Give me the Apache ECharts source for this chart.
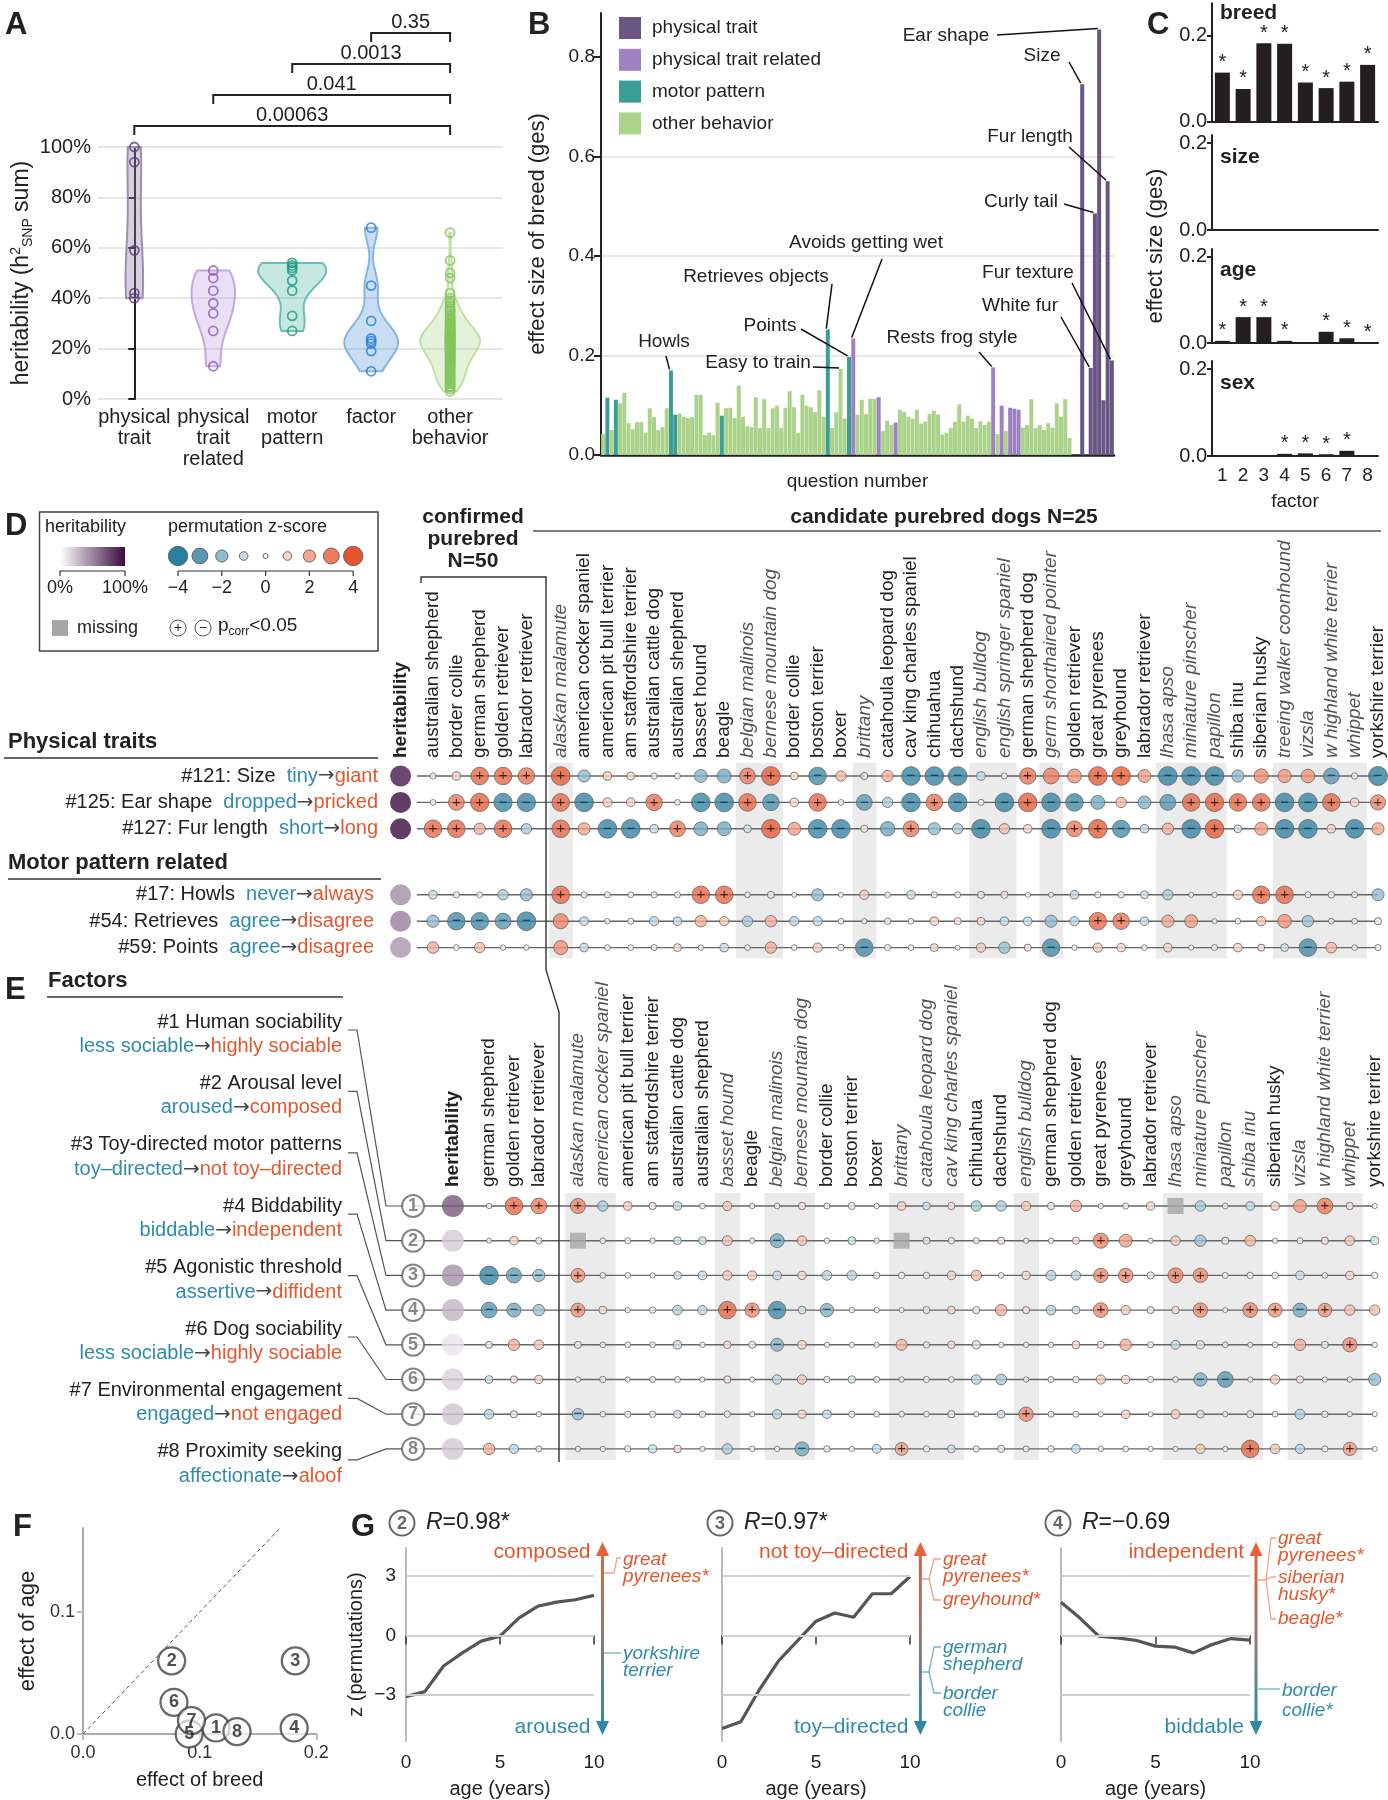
<!DOCTYPE html>
<html><head><meta charset="utf-8">
<script src="https://cdn.jsdelivr.net/npm/echarts@6/dist/echarts.min.js"></script>
<style>html,body{margin:0;padding:0;background:#fff}#c{width:1388px;height:1800px}</style>
</head><body><div id="c"></div><script>
// ================= DATA =================
// Panel A: heritability (h2 SNP sum, %)
const groupNames = ['physical\ntrait', 'physical\ntrait\nrelated', 'motor\npattern', 'factor', 'other\nbehavior'];
const herPhysical = [100, 94, 59, 42, 40];
const herPhysRelated = [51, 48, 43, 38, 34, 27, 13];
const herMotor = [54, 53, 52, 51, 47, 43, 33, 27];
const herFactor = [68, 22, 45, 31, 11, 19, 24, 23];
const herOther = [66,55,50,48,42,40,39,38,37,36,35,35,34,33,33,32,32,31,31,30,30,30,29,29,28,28,28,27,27,27,26,26,26,26,25,25,25,25,25,24,24,24,24,24,23,23,23,23,23,22,22,22,22,21,21,21,21,20,20,20,20,19,19,19,18,18,18,17,17,17,16,16,16,15,15,15,14,14,13,13,12,12,11,11,10,10,9,9,8,8,7,7,6,6,5,5,4,3];
const pValueBrackets = [['0.00063', 0], ['0.041', 1], ['0.0013', 2], ['0.35', 3]];

// Panel B: effect size of breed per question
const qValues = [0.042,0.115,0.050,0.111,0.104,0.125,0.064,0.052,0.066,0.066,
 0.045,0.094,0.076,0.050,0.056,0.094,0.170,0.081,0.083,0.077,
 0.074,0.076,0.121,0.121,0.040,0.045,0.040,0.105,0.079,0.094,
 0.095,0.074,0.139,0.077,0.058,0.056,0.116,0.054,0.112,0.054,
 0.094,0.099,0.054,0.095,0.128,0.096,0.044,0.121,0.099,0.096,
 0.086,0.130,0.077,0.252,0.054,0.086,0.173,0.073,0.197,0.234,
 0.081,0.111,0.082,0.113,0.113,0.116,0.048,0.069,0.060,0.065,
 0.091,0.087,0.077,0.073,0.091,0.063,0.067,0.082,0.089,0.081,
 0.041,0.044,0.054,0.067,0.102,0.067,0.079,0.073,0.054,0.068,
 0.060,0.067,0.176,0.042,0.099,0.048,0.095,0.093,0.091,0.055,
 0.060,0.112,0.054,0.060,0.050,0.064,0.055,0.104,0.077,0.112,
 0.034,0,0,0.745,0,0.175,0.485,0.855,0.110,0.550,
 0.190];
const motorQ = [2, 4, 17, 18, 29, 54, 59];
const relatedQ = [60, 66, 70, 93, 95, 97, 98, 99];
const physicalQ = [114, 116, 117, 118, 119, 120, 121];
const bLegend = ['physical trait', 'physical trait related', 'motor pattern', 'other behavior'];
const bAnnotations = [['Howls',17],['Retrieves objects',54],['Points',59],['Easy to train',57],['Avoids getting wet',60],['Rests frog style',93],['Ear shape',118],['Size',114],['Fur length',120],['Curly tail',117],['Fur texture',121],['White fur',116]];

// Panel C: effect size (ges) per factor
const factorIds = ['1','2','3','4','5','6','7','8'];
const gesBreed = [0.114,0.076,0.182,0.181,0.091,0.078,0.093,0.132];
const gesSize = [0,0,0,0,0,0,0,0];
const gesAge = [0.005,0.060,0.060,0.005,0,0.026,0.011,0.002];
const gesSex = [0.001,0.001,0,0.005,0.006,0.004,0.012,0];
const sigBreed = [1,1,1,1,1,1,1,1];
const sigSize = [0,0,0,0,0,0,0,0];
const sigAge = [1,1,1,1,0,1,1,1];
const sigSex = [0,0,0,1,1,1,1,0];
const cPanels = ['breed','size','age','sex'];

// Panel D
const confirmedD = ['australian shepherd','border collie','german shepherd','golden retriever','labrador retriever'];
const candidatesD = ['alaskan malamute','american cocker spaniel','american pit bull terrier','am staffordshire terrier','australian cattle dog','australian shepherd','basset hound','beagle','belgian malinois','bernese mountain dog','border collie','boston terrier','boxer','brittany','catahoula leopard dog','cav king charles spaniel','chihuahua','dachshund','english bulldog','english springer spaniel','german shepherd dog','germ shorthaired pointer','golden retriever','great pyrenees','greyhound','labrador retriever','lhasa apso','miniature pinscher','papillon','shiba inu','siberian husky','treeing walker coonhound','vizsla','w highland white terrier','whippet','yorkshire terrier'];
const shadedD = ['alaskan malamute','belgian malinois','bernese mountain dog','brittany','english bulldog','english springer spaniel','germ shorthaired pointer','lhasa apso','miniature pinscher','papillon','treeing walker coonhound','vizsla','w highland white terrier','whippet'];
const dTraits = [['#121: Size','tiny','giant'],['#125: Ear shape','dropped','pricked'],['#127: Fur length','short','long'],['#17: Howls','never','always'],['#54: Retrieves','agree','disagree'],['#59: Points','agree','disagree']];
const dHeritability = [0.94, 1.0, 1.0, 0.47, 0.52, 0.43];
// z-scores: 5 confirmed then 36 candidates; * = p_corr<0.05
const dZ = [
 '0.3 1 3.5* 3.5* 3.2*  3.8* -2 1 0.8 0.3 0.3 -2.2 -2.5 3* 3.8* 0.8 -3.5* 1.5 0.5 1.8 -3.8* -3.8* -3.8* -1 0.3 3.2* 3 2.5 3.8* 3.8* 2.2 -3.8* -3.8* -3.8* -2 2.6 2.3 2.4 -3* 0.4 -3.9*',
 '0.2 3* 3.7* -3.7* -3.7*  3.5* -3.8* 1.2 1 3.2* 0.2 -3.8* -3.8* 3.5* -3.2* 1 3.5* 0.2 -3* -1.5 -3.8* 3.2* -3.8* 0.3 -3.8* 3.8* -3.8* -3.5* -2.5 1.5 -2.2 -3 3.5* 3.7* 3.5* 3.5* -3.8* -3.8* 3.5* 1 2.8*',
 '3.5* 3.5* 1.8 3.5* -1.5  3.5* 2 -3.8* -3.8* -1 3* -2.5 -2.5 -0.8 3.8* 2.2 -3.8* -3.8* 0.6 -2.6 3* -2 -1.5 -3.8* 1.5 1 -3.8* 3* 3.8* -3.4* -1 1.8 -3.8* 3.8* -0.8 2.2 -3.8* -3.8* 1 -3.8* 2',
 '-1 0.3 0.2 -1.5 -2  3.5* 0.3 0.3 -0.2 -0.3 0.3 3.5* 3.5* 0.2 -0.5 0 -2 0 1.2 0.2 -1 0.3 0.3 -0.5 0.6 0 0 -1 0.3 0.4 -0.8 -1.5 0 0.1 1.2 3.5* 3.5* -0.3 0.4 -0.3 -2',
 '-2 -3.5* -3.5* -3* -3.8*  2.8 -1 0.1 0.3 -1.2 -1 1.8 1.2 -1.5 1.8 -1.2 -1.2 0.2 0.1 0.4 0.2 1 0.6 0.8 -1 -1 -2 -1.2 3.5* 3.2* -1 2 2.2 0 0.2 1.2 2.4 -1.8 0.2 -0.2 0.5',
 '1.8 0.2 1.5 0.1 0.1  2.5 -1 0.2 0.2 -0.3 0.8 0.1 -1 0.2 1.8 0.2 1.2 0.4 -3.5* -0.3 0.2 0.8 0 1.2 -1.8 0.5 -3.5* 0.1 1.2 0.9 0.2 1 0 -0.3 1 0.5 -0.8 -3.5* 1.6 0.2 0.3'
];

// Panel E
const confirmedE = ['german shepherd','golden retriever','labrador retriever'];
const candidatesE = ['alaskan malamute','american cocker spaniel','american pit bull terrier','am staffordshire terrier','australian cattle dog','australian shepherd','basset hound','beagle','belgian malinois','bernese mountain dog','border collie','boston terrier','boxer','brittany','catahoula leopard dog','cav king charles spaniel','chihuahua','dachshund','english bulldog','german shepherd dog','golden retriever','great pyrenees','greyhound','labrador retriever','lhasa apso','miniature pinscher','papillon','shiba inu','siberian husky','vizsla','w highland white terrier','whippet','yorkshire terrier'];
const shadedE = ['alaskan malamute','american cocker spaniel','basset hound','belgian malinois','bernese mountain dog','brittany','catahoula leopard dog','cav king charles spaniel','english bulldog','lhasa apso','miniature pinscher','papillon','shiba inu','vizsla','w highland white terrier','whippet'];
const factorNames = ['#1 Human sociability','#2 Arousal level','#3 Toy-directed motor patterns','#4 Biddability','#5 Agonistic threshold','#6 Dog sociability','#7 Environmental engagement','#8 Proximity seeking'];
const factorLow = ['less sociable','aroused','toy\u2013directed','biddable','assertive','less sociable','engaged','affectionate'];
const factorHigh = ['highly sociable','composed','not toy\u2013directed','independent','diffident','highly sociable','not engaged','aloof'];
const eZ = [
 '0.1 3.5* 3*  2.8* -1.5 1 0.5 -1 0.2 1.2 0.1 0.2 0.5 0.3 0.6 0.1 1 -0.8 0.6 -1.5 -1.5 1.2 -0.5 1.8 0.1 0.3 0.9 NA -1.5 -0.2 -1 1 2.2 3* 0.5 0.1',
 '0 1 0.4  NA 0.2 0.3 0.1 -0.8 -0.8 1.4 0.1 -2.5* 1.3 0.1 -0.8 0.1 NA -0.6 0.4 0.3 0.5 0.1 0.1 0.6 2.8* 2.2 0.05 1.3 -1.8 -0.5 1.6 0.05 -0.3 0.5 1.3 -0.9',
 '-3.8* -2.8* -2*  2.5* 0.2 0.2 0.1 -0.8 -1 1.2 1.2 -1 0.9 -1.3 -1.3 -0.4 0.4 0.4 1 1.5 0.2 0.9 -1.4 -1.2 2.6* 2.6* -0.6 2.8* 2.6* 0.3 -0.4 0.4 -1 -0.2 0.9 0.4',
 '-3* -2.5* -1.8  2.5* 0.8 0.1 -0.4 -1.3 -1.2 3.5* 2.6* -3.5* -0.8 -2.3* 0.1 0.1 0 -0.6 0.8 0.6 1.8 0.5 -1.3 -0.8 2.7* 1.2 -0.5 0.7 2.6* 0 2.7* 2.5* -2.5* 2.4* 1.5 1.5',
 '-0.5 1.8 1.3  0.5 0.2 0.2 0.2 -1 0.1 0.7 0.6 -2.2* 1 0.05 -0.05 0.05 1.7 -0.4 0.7 -0.9 0.1 0.1 0.1 0.8 0.6 1.8 0.3 -1.1 -0.9 0.2 -0.05 0.2 1.8 -0.6 2.6* 0.1',
 '-0.8 0.5 0.9  -0.1 -0.4 0.05 0.3 -0.3 0 0.5 0 -1.2 1.2 -0.4 -0.7 0.3 0.1 0.3 0.2 -1.3 -1.6 0.1 -0.3 0.4 1.2 0.9 0.3 -0.2 -2.3* -3* 0.05 1.2 0.6 0.05 0.1 -2',
 '-1.3 0.5 0.1  -1.8* -0.2 0.4 0.4 -0.8 -0.4 0.4 0.1 -1.2 0.9 -1 0.4 0.2 0.2 0.2 -0.5 0.1 -0.8 2.6* -0.3 0.3 0.05 1 0 1.1 -0.8 0.1 -0.6 -0.2 -1.4 -0.4 0.05 0.05',
 '1.8 -1.2 -0.3  0.1 0.1 -0.4 -0.9 0.7 0.05 -1.5 0.1 0.1 -2.5* 0.4 0.05 -1 2.2* 0.4 -0.8 -0.3 -0.6 0.3 0.4 -1 0.1 0.2 0.05 0.05 1.2 0.1 3.5* 1.3 -1.2 0.3 2.3* 0'
];

// Panel G: z vs age
const ages = [0,1,2,3,4,5,6,7,8,9,10];
const zFactor2 = [-3.07,-2.82,-1.53,-0.87,-0.28,-0.03,0.88,1.47,1.68,1.80,2.02];
const zFactor3 = [-4.67,-4.33,-2.70,-1.28,-0.28,0.72,1.13,0.92,2.10,2.10,2.97];
const zFactor4 = [1.67,0.88,-0.03,-0.12,-0.25,-0.53,-0.58,-0.87,-0.45,-0.15,-0.23];
const gTitles = [['2','=0.98*'],['3','=0.97*'],['4','=\u22120.69']];
const gEnds = [['composed','aroused'],['not toy\u2013directed','toy\u2013directed'],['independent','biddable']];

// ================= STYLE / HELPERS =================
const FS = '"Liberation Sans", Arial, Helvetica, sans-serif';
const FA = '"DejaVu Sans", "Liberation Sans", sans-serif';
const RED = '#e4572e', TEAL = '#2f8bab', INK = '#222';
const LRED = '#f2a28b', LTEAL = '#6fb2c8';
const vStyle = [
 {fill:'rgba(140,120,160,0.35)', stroke:'#9d8fb0', pt:'#5b3b7d'},
 {fill:'rgba(190,155,225,0.32)', stroke:'#c3a7e0', pt:'#8f5cbd'},
 {fill:'rgba(70,175,155,0.30)', stroke:'#6cc0b2', pt:'#1e9882'},
 {fill:'rgba(80,145,215,0.30)', stroke:'#86b5e3', pt:'#2a7fcf'},
 {fill:'rgba(160,210,120,0.28)', stroke:'#c0e0a5', pt:'#86c45e'}
];
const bColors = {p:'#6a5684', r:'#9f80c3', m:'#3a9e95', o:'#abd38b'};
const zStops = [[-4,[43,127,158]],[-3,[88,152,180]],[-2,[141,187,208]],[-1,[198,221,231]],[0,[255,255,255]],[1,[249,211,198]],[2,[244,165,140]],[3,[237,124,93]],[4,[228,85,47]]];
function zColor(z){ z=Math.max(-4,Math.min(4,z)); for(let i=0;i<zStops.length-1;i++){ const a=zStops[i],b=zStops[i+1]; if(z<=b[0]){ const t=(z-a[0])/(b[0]-a[0]); const c=a[1].map((v,k)=>Math.round(v+(b[1][k]-v)*t)); return 'rgb('+c.join(',')+')'; } } return 'rgb(228,85,47)'; }
function zSize(z){ return 5+3.6*Math.min(Math.abs(z),4); }
function hColor(h){ const a=[255,255,255], b=[58,11,63]; return 'rgb('+a.map((v,k)=>Math.round(v+(b[k]-v)*h)).join(',')+')'; }
function parseRow(s){ return s.trim().split(/\s+/).map(t => t==='NA' ? {na:true} : {z:parseFloat(t), sig:t.endsWith('*')}); }
function dot(x,y,c){
  if(c.na) return {value:[x,y,0], symbol:'rect', symbolSize:16, itemStyle:{color:'#a6a6a6', borderWidth:0}, label:{show:false}};
  return {value:[x,y,c.z], symbol:'circle', symbolSize:zSize(c.z), itemStyle:{color:zColor(c.z), borderColor:'#666', borderWidth:1}, sign: c.sig ? (c.z>0?'+':'\u2212') : '', label:{show:c.sig}};
}
function kde(vals){
  const n=vals.length, mean=vals.reduce((a,b)=>a+b,0)/n;
  const sd=Math.sqrt(vals.reduce((a,b)=>a+(b-mean)*(b-mean),0)/(n-1));
  const s=vals.slice().sort((a,b)=>a-b);
  const q=p=>{const h=(n-1)*p, lo=Math.floor(h); return s[lo]+(h-lo)*(s[Math.min(lo+1,n-1)]-s[lo]);};
  let lo=Math.min(sd,(q(0.75)-q(0.25))/1.34); if(!(lo>0)) lo=sd;
  const bw=0.9*lo*Math.pow(n,-0.2);
  const pts=[];
  for(let i=0;i<=60;i++){ const y=s[0]+(s[n-1]-s[0])*i/60; let d=0; for(const v of vals){ const u=(y-v)/bw; d+=Math.exp(-0.5*u*u);} pts.push([y,d/(n*bw*Math.sqrt(2*Math.PI))]); }
  return pts;
}
const aGroups = [herPhysical, herPhysRelated, herMotor, herFactor, herOther];
const dens = aGroups.map(kde);
const densMax = Math.max(...dens.map(p=>Math.max(...p.map(x=>x[1]))));

// layout constants
const D = {her:-1.39, cand:5.47, line0:-0.69, rows:[0,1,2,4.5,5.5,6.5], shade:[-0.5,6.9]};
const E = {fac:-3.05, her:-1.45, cand:3.57, shade:[-0.375,7.32]};

// ================= OPTION =================
const grids = [
 {left:98, top:147, width:405, height:252},
 {left:601, top:13, width:513, height:442},
 {left:1212, top:3.3, width:166, height:118.4},
 {left:1212, top:135, width:166, height:95},
 {left:1212, top:249, width:166, height:94},
 {left:1212, top:361, width:166, height:95},
 {left:380, top:760, width:1005, height:205},
 {left:380, top:1190, width:1005, height:275},
 {left:83, top:1528, width:233.3, height:206},
 {left:406, top:1548, width:188, height:194},
 {left:722, top:1548, width:188, height:194},
 {left:1061, top:1548, width:189, height:194}
];
const ax = (o) => Object.assign({axisLine:{show:false}, axisTick:{show:false}, axisLabel:{show:false}, splitLine:{show:false}}, o);
const lab = {fontSize:19, color:INK, fontFamily:FS};
const xAxes = [], yAxes = [];
xAxes.push(ax({gridIndex:0, type:'value', min:-0.46, max:4.67}));
yAxes.push(ax({gridIndex:0, type:'value', min:0, max:100, interval:20, axisLine:{show:true, lineStyle:{color:INK,width:2}}, axisTick:{show:true,length:6,lineStyle:{color:INK,width:2}}, axisLabel:Object.assign({formatter:'{value}%', margin:7}, lab, {fontSize:20}), splitLine:{show:true, lineStyle:{color:'#e6e6e6', width:2}}}));
xAxes.push(ax({gridIndex:1, type:'category', data:qValues.map((v,i)=>String(i+1)), axisLine:{show:true, lineStyle:{color:INK,width:2.5}}, name:'question number', nameLocation:'middle', nameGap:17, nameTextStyle:lab}));
yAxes.push(ax({gridIndex:1, type:'value', min:0, max:0.888, interval:0.2, axisLine:{show:true,lineStyle:{color:INK,width:2}}, axisTick:{show:true,length:7,customValues:[0,0.2,0.4,0.6,0.8],lineStyle:{color:INK,width:2}}, axisLabel:Object.assign({customValues:[0,0.2,0.4,0.6,0.8], margin:6, formatter:v=>(Math.abs(v*5-Math.round(v*5))<1e-6?v.toFixed(1):'')}, lab), splitLine:{show:true, showMinLine:false, showMaxLine:false, lineStyle:{color:'#e8e8e8',width:2}}, name:'effect size of breed (ges)', nameLocation:'middle', nameGap:52, nameTextStyle:{fontSize:22, color:INK, fontFamily:FS}}));
const cMax = [0.275, 0.219, 0.218, 0.219];
for(let i=0;i<4;i++){
  const last = i===3;
  xAxes.push(ax({gridIndex:2+i, type:'category', data:factorIds, axisLine:{show:true,lineStyle:{color:INK,width:2}}, axisLabel:Object.assign({show:last, margin:10}, lab), name:last?'factor':'', nameLocation:'middle', nameGap:36, nameTextStyle:lab}));
  yAxes.push(ax({gridIndex:2+i, type:'value', min:0, max:cMax[i], interval:0.1, axisLine:{show:true,lineStyle:{color:INK,width:2}}, axisTick:{show:true,length:5,customValues:[0,0.2],lineStyle:{color:INK,width:2}}, axisLabel:Object.assign({customValues:[0,0.2], margin:5, formatter:v=>(Math.abs(v)<1e-6?'0.0':(Math.abs(v-0.2)<1e-6?'0.2':''))}, lab, {fontSize:20}), splitLine:{show:true, showMinLine:false, showMaxLine:false, lineStyle:{color:'#aaa',width:1.5}}}));
}
xAxes.push(ax({gridIndex:6, type:'value', min:-2.27, max:40.771}));
yAxes.push(ax({gridIndex:6, type:'value', inverse:true, min:-0.606, max:7.159}));
xAxes.push(ax({gridIndex:7, type:'value', min:-4.378, max:35.984}));
yAxes.push(ax({gridIndex:7, type:'value', inverse:true, min:-0.461, max:7.464}));
const fAxisLine = {show:true, lineStyle:{color:'#aaa', width:2}};
xAxes.push(ax({gridIndex:8, type:'value', min:0, max:0.2, interval:0.1, axisLine:fAxisLine, axisTick:{show:true,length:6,lineStyle:{color:'#aaa',width:1.5}}, axisLabel:Object.assign({}, lab, {fontSize:18, color:'#333', margin:10, formatter:v=>v.toFixed(1)}), name:'effect of breed', nameLocation:'middle', nameGap:36, nameTextStyle:{fontSize:20,color:INK,fontFamily:FS}}));
yAxes.push(ax({gridIndex:8, type:'value', min:0, max:0.169, interval:0.1, axisLine:fAxisLine, axisTick:{show:true,length:6,customValues:[0,0.1],lineStyle:{color:'#aaa',width:1.5}}, axisLabel:Object.assign({}, lab, {fontSize:18, color:'#333', margin:8, customValues:[0,0.1], formatter:v=>(Math.abs(v*10-Math.round(v*10))<1e-6?v.toFixed(1):'')}), name:'effect of age', nameLocation:'middle', nameGap:44, nameTextStyle:{fontSize:22,color:INK,fontFamily:FS}}));
for(let i=0;i<3;i++){
  xAxes.push(ax({gridIndex:9+i, type:'value', min:0, max:10, interval:5, axisLine:{show:true,lineStyle:{color:'#bbb',width:2}}, axisTick:{show:true,length:9,lineStyle:{color:'#333',width:1.5}}, axisLabel:Object.assign({margin:12}, lab), name:'age (years)', nameLocation:'middle', nameGap:38, nameTextStyle:{fontSize:20,color:INK,fontFamily:FS}}));
  yAxes.push(ax({gridIndex:9+i, type:'value', min:-5.3, max:4.4, axisLine:{show:true,lineStyle:{color:'#bbb',width:2}}, name:i===0?'z (permutations)':'', nameLocation:'middle', nameGap:40, nameTextStyle:{fontSize:20,color:INK,fontFamily:FS}}));
}

const series = [];
// A violins
series.push({type:'custom', xAxisIndex:0, yAxisIndex:0, z:2, silent:true, data:aGroups.map((g,i)=>[i]),
  renderItem:(p,api)=>{ const g=api.value(0), pts=dens[g], k=34/densMax, L=[], R=[];
    pts.forEach(([y,d])=>{ const c=api.coord([g,y]); R.push([c[0]+d*k,c[1]]); L.push([c[0]-d*k,c[1]]); });
    return {type:'polygon', shape:{points:R.concat(L.reverse())}, style:{fill:vStyle[g].fill, stroke:vStyle[g].stroke, lineWidth:2}}; }});
aGroups.forEach((arr,g)=>series.push({type:'scatter', xAxisIndex:0, yAxisIndex:0, z:3, silent:true, symbol:'circle', symbolSize:9,
  itemStyle:{color:'rgba(255,255,255,0)', borderColor:vStyle[g].pt, borderWidth:1.8}, data:arr.map(v=>[g,v])}));
// B bars
function qType(q){ return physicalQ.includes(q)?'p':relatedQ.includes(q)?'r':motorQ.includes(q)?'m':'o'; }
series.push({type:'bar', xAxisIndex:1, yAxisIndex:1, barCategoryGap:'6%', silent:true,
  data:qValues.map((v,i)=>({value:v, itemStyle:{color:bColors[qType(i+1)]}}))});
// C bars
[[gesBreed,sigBreed],[gesSize,sigSize],[gesAge,sigAge],[gesSex,sigSex]].forEach(([vals,sig],i)=>series.push({type:'bar', xAxisIndex:2+i, yAxisIndex:2+i, barWidth:15, silent:true,
  itemStyle:{color:'#231f20'}, label:{show:false, position:'top', distance:0, formatter:'*', fontSize:20, color:INK, fontFamily:FS},
  data:vals.map((v,k)=>({value:v, label:{show:!!sig[k]}}))}));
// D matrix
const dShade=[], dDots=[], dHer=[];
candidatesD.forEach((n,j)=>{ if(shadedD.includes(n)) dShade.push([D.cand+j]); });
dZ.forEach((s,r)=>{ parseRow(s).forEach((c,k)=>{ const x = k<confirmedD.length ? k : D.cand+(k-confirmedD.length); dDots.push(dot(x, D.rows[r], c)); });
  dHer.push({value:[D.her, D.rows[r], dHeritability[r]], itemStyle:{color:hColor(dHeritability[r])}}); });
const dLast = D.cand + candidatesD.length - 1;
series.push({type:'custom', xAxisIndex:6, yAxisIndex:6, z:1, silent:true, data:dShade,
  renderItem:(p,api)=>{ const a=api.coord([api.value(0)-0.5, D.shade[0]]), b=api.coord([api.value(0)+0.5, D.shade[1]]); return {type:'rect', shape:{x:a[0],y:a[1],width:b[0]-a[0]+0.5,height:b[1]-a[1]}, style:{fill:'#ebebeb'}}; }});
series.push({type:'custom', xAxisIndex:6, yAxisIndex:6, z:2, silent:true, data:D.rows.map(r=>[r]),
  renderItem:(p,api)=>{ const a=api.coord([D.line0, api.value(0)]), b=api.coord([dLast, api.value(0)]); return {type:'line', shape:{x1:a[0],y1:a[1],x2:b[0],y2:b[1]}, style:{stroke:'#666', lineWidth:1.4}}; }});
series.push({type:'scatter', xAxisIndex:6, yAxisIndex:6, z:3, silent:true, symbolSize:21, data:dHer});
const signLabel = {show:false, position:'inside', formatter:p=>p.data.sign||'', fontSize:15, color:'#111', fontFamily:FS};
series.push({type:'scatter', xAxisIndex:6, yAxisIndex:6, z:4, silent:true, label:signLabel, data:dDots});
// E matrix
const eShade=[], eDots=[], eHer=[], eFac=[];
candidatesE.forEach((n,j)=>{ if(shadedE.includes(n)) eShade.push([E.cand+j]); });
eZ.forEach((s,r)=>{ parseRow(s).forEach((c,k)=>{ const x = k<confirmedE.length ? k : E.cand+(k-confirmedE.length); eDots.push(dot(x, r, c)); });
  const h = herFactor[r]/100; eHer.push({value:[E.her, r, h], itemStyle:{color:hColor(h)}}); eFac.push([E.fac, r, r+1]); });
const eLast = E.cand + candidatesE.length - 1;
series.push({type:'custom', xAxisIndex:7, yAxisIndex:7, z:1, silent:true, data:eShade,
  renderItem:(p,api)=>{ const a=api.coord([api.value(0)-0.5, E.shade[0]]), b=api.coord([api.value(0)+0.5, E.shade[1]]); return {type:'rect', shape:{x:a[0],y:a[1],width:b[0]-a[0]+0.5,height:b[1]-a[1]}, style:{fill:'#ebebeb'}}; }});
series.push({type:'custom', xAxisIndex:7, yAxisIndex:7, z:2, silent:true, data:factorIds.map((f,i)=>[i]),
  renderItem:(p,api)=>{ const a=api.coord([E.fac, api.value(0)]), b=api.coord([eLast, api.value(0)]); return {type:'line', shape:{x1:a[0],y1:a[1],x2:b[0],y2:b[1]}, style:{stroke:'#666', lineWidth:1.4}}; }});
series.push({type:'scatter', xAxisIndex:7, yAxisIndex:7, z:3, silent:true, symbolSize:22, data:eHer});
series.push({type:'scatter', xAxisIndex:7, yAxisIndex:7, z:3, silent:true, symbolSize:22, itemStyle:{color:'#fff', borderColor:'#666', borderWidth:2},
  label:{show:true, position:'inside', formatter:p=>String(p.value[2]), fontSize:18, fontWeight:'bold', color:'#6a6a6a', fontFamily:FS}, data:eFac});
series.push({type:'scatter', xAxisIndex:7, yAxisIndex:7, z:4, silent:true, label:signLabel, data:eDots});
// F
series.push({type:'line', xAxisIndex:8, yAxisIndex:8, silent:true, symbol:'none', lineStyle:{color:'#555', width:1, type:[4,3]}, data:[[0,0],[0.169,0.169]]});
series.push({type:'scatter', xAxisIndex:8, yAxisIndex:8, silent:true, symbolSize:27, itemStyle:{color:'rgba(255,255,255,0.85)', borderColor:'#444', borderWidth:2.3},
  label:{show:true, position:'inside', formatter:p=>p.value[2], fontSize:18, fontWeight:'bold', color:'#222', fontFamily:FS},
  data:gesBreed.map((b,i)=>[b, gesAge[i], factorIds[i]])});
// G
[zFactor2, zFactor3, zFactor4].forEach((zs,i)=>series.push({type:'line', xAxisIndex:9+i, yAxisIndex:9+i, silent:true, symbol:'none', z:3,
  lineStyle:{color:'#555', width:3.2}, data:ages.map((a,k)=>[a, zs[k]]),
  markLine:{silent:true, symbol:['none','none'], lineStyle:{color:'#cfcfcf', width:2, type:'solid'},
    label:{show:i===0, position:'start', distance:10, formatter:p=>p.value===0?'0':(p.value>0?'3':'\u22123'), fontSize:19, color:INK, fontFamily:FS},
    data:[{yAxis:3},{yAxis:0},{yAxis:-3}]}}));

const chart = echarts.init(document.getElementById('c'), null, {width:1388, height:1800});
chart.setOption({animation:false, backgroundColor:'#fff', textStyle:{fontFamily:FS}, grid:grids, xAxis:xAxes, yAxis:yAxes, series:series});

// ================= ANNOTATIONS =================
const P = (gi, v) => chart.convertToPixel({gridIndex:gi}, v);
const GR = [];
function txt(x,y,text,o){ o=o||{}; const size=o.size||19; const font=(o.italic?'italic ':'')+(o.bold?'bold ':'')+size+'px '+FS;
  return {type:'text', x:x, y:y, rotation:o.rot||0, z:50, silent:true, style:{text:text, fill:o.color||INK, font:font, align:o.align||'left', textAlign:o.align||'left', verticalAlign:o.va||'middle', textVerticalAlign:o.va||'middle', lineHeight:o.lh, rich:o.rich}}; }
function pl(pts,color,w){ return {type:'polyline', z:40, silent:true, shape:{points:pts}, style:{stroke:color||INK, lineWidth:w||1.5, fill:null}}; }
function tok(size,color,extra){ return Object.assign({fill:color, color:color, font:size+'px '+FS, fontSize:size, fontFamily:FS}, extra||{}); }
function arrowTok(){ return {fill:'#444', color:'#444', font:'20px '+FA, fontSize:20, fontFamily:FA}; }

// panel letters
[['A',5,25],['B',528,25],['C',1147,25],['D',5,526],['E',5,990],['F',13,1527],['G',351,1527]].forEach(([l,x,y])=>GR.push(txt(x,y,l,{bold:true,size:31})));

// --- A
groupNames.forEach((n,g)=>GR.push(txt(P(0,[g,0])[0], 407, n, {align:'center', va:'top', lh:21, size:20})));
pValueBrackets.forEach(([t,g],i)=>{ const x0=P(0,[g,0])[0], x1=P(0,[4,0])[0], y=126-31*i;
  GR.push(pl([[x0,y+9],[x0,y],[x1,y],[x1,y+9]], INK, 2)); GR.push(txt((x0+x1)/2, y-11, t, {align:'center', size:20})); });
GR.push(txt(22, 273, 'heritability (h{s|2}{b|SNP} sum)', {rot:Math.PI/2, align:'center', size:23,
  rich:{s:tok(14,INK,{padding:[0,0,12,0]}), b:tok(14,INK,{padding:[12,0,0,0]})}}));

// --- B legend
const legC=[bColors.p,bColors.r,bColors.m,bColors.o];
bLegend.forEach((n,i)=>{ const y=28+31.8*i; GR.push({type:'rect', z:40, silent:true, shape:{x:619,y:y-11,width:22,height:22}, style:{fill:legC[i]}}); GR.push(txt(652,y,n,{size:19})); });
const bAnnPos = {'Howls':[664,342,666,356],'Retrieves objects':[756,277,832,284],'Points':[770,326,801,329],'Easy to train':[758,363,813,367],'Avoids getting wet':[866,243,882,259],'Rests frog style':[952,338,979,352],'Ear shape':[946,36,997,35],'Size':[1042,56,1069,62],'Fur length':[1030,137,1069,147],'Curly tail':[1021,202,1064,204],'Fur texture':[1028,273,1072,283],'White fur':[1020,306,1061,317]};
bAnnotations.forEach(([t,q])=>{ const a=bAnnPos[t], p=P(1,[q-1, qValues[q-1]]); GR.push(txt(a[0],a[1],t,{align:'center',size:19})); GR.push(pl([[a[2],a[3]],[p[0]-1.5,p[1]-1]],'#111',1.5)); });

// --- C
GR.push(txt(1156, 246, 'effect size (ges)', {rot:Math.PI/2, align:'center', size:22}));
cPanels.forEach((n,i)=>GR.push(txt(1220, [13,157,270,383][i], n, {bold:true, size:21})));

// --- D legend & headers
GR.push({type:'rect', z:40, silent:true, shape:{x:39.5,y:512,width:338.5,height:139}, style:{fill:null, stroke:'#444', lineWidth:1.5}});
GR.push(txt(45,527,'heritability',{size:18})); GR.push(txt(168,527,'permutation z-score',{size:18}));
GR.push({type:'rect', z:40, silent:true, shape:{x:60,y:547,width:65,height:19}, style:{fill:new echarts.graphic.LinearGradient(0,0,1,0,[{offset:0,color:'#ffffff'},{offset:1,color:hColor(1)}])}});
GR.push(pl([[60,576],[60,571],[125,571],[125,576]], '#333', 1.2));
GR.push(txt(60,588,'0%',{align:'center',size:18})); GR.push(txt(125,588,'100%',{align:'center',size:18}));
[-4,-3,-2,-1,0,1,2,3,4].forEach((z,i)=>{ const x=178+21.9*i; GR.push({type:'circle', z:40, silent:true, shape:{cx:x,cy:556,r:zSize(z)/2}, style:{fill:zColor(z), stroke:'#666', lineWidth:1}}); });
GR.push(pl([[178,571],[353,571]], '#333', 1.2));
[-4,-2,0,2,4].forEach((z,i)=>{ const x=178+43.8*i; GR.push(pl([[x,571],[x,576]],'#333',1.2)); GR.push(txt(x,588,z<0?'\u2212'+(-z):String(z),{align:'center',size:18})); });
GR.push({type:'rect', z:40, silent:true, shape:{x:52,y:620,width:16,height:16}, style:{fill:'#a6a6a6'}});
GR.push(txt(77,628,'missing',{size:18}));
[['+',178],['\u2212',203]].forEach(([s,x])=>{ GR.push({type:'circle', z:40, silent:true, shape:{cx:x,cy:628,r:8}, style:{fill:'#fff', stroke:'#555', lineWidth:1}}); GR.push(txt(x,628,s,{align:'center',size:14})); });
GR.push(txt(218,626,'p{s|corr}<0.05',{size:19, rich:{s:tok(12,INK,{padding:[12,0,0,0]})}}));
['confirmed','purebred','N=50'].forEach((t,i)=>GR.push(txt(473,517+22*i,t,{bold:true,size:21,align:'center'})));
GR.push(txt(944,517,'candidate purebred dogs N=25',{bold:true,size:21,align:'center'}));
GR.push(pl([[533,531],[1381,531]],'#555',1.5));
GR.push(pl([[421,583],[421,577],[546,577],[546,970],[559,1012],[559,1462]],'#333',1.4));
GR.push(txt(8,742,'Physical traits',{bold:true,size:22})); GR.push(pl([[4,758],[378,758]],'#333',1.5));
GR.push(txt(8,863,'Motor pattern related',{bold:true,size:22})); GR.push(pl([[8,879],[381,879]],'#333',1.5));
const rowRich = {k:tok(20,INK), b:tok(20,TEAL), a:arrowTok(), r:tok(20,RED)};
dTraits.forEach(([k,lo,hi],r)=>{ const y=P(6,[0,D.rows[r]])[1]; GR.push(txt(r<3?378:374, y, '{k|'+k+'}  {b|'+lo+'}{a|\u2192}{r|'+hi+'}', {align:'right', size:20, rich:rowRich})); });
const dBase = 758;
GR.push(txt(P(6,[D.her,0])[0], dBase, 'heritability', {rot:Math.PI/2, bold:true, size:19}));
confirmedD.forEach((n,k)=>GR.push(txt(P(6,[k,0])[0], dBase, n, {rot:Math.PI/2, size:19})));
candidatesD.forEach((n,j)=>{ const it=shadedD.includes(n); GR.push(txt(P(6,[D.cand+j,0])[0], dBase, n, {rot:Math.PI/2, size:19, italic:it, color:it?'#555':INK})); });

// --- E
GR.push(txt(48,981,'Factors',{bold:true,size:22})); GR.push(pl([[47,997],[343,997]],'#333',1.5));
const eBase = 1187;
GR.push(txt(P(7,[E.her,0])[0], eBase, 'heritability', {rot:Math.PI/2, bold:true, size:19}));
confirmedE.forEach((n,k)=>GR.push(txt(P(7,[k,0])[0], eBase, n, {rot:Math.PI/2, size:19})));
candidatesE.forEach((n,j)=>{ const it=shadedE.includes(n); GR.push(txt(P(7,[E.cand+j,0])[0], eBase, n, {rot:Math.PI/2, size:19, italic:it, color:it?'#555':INK})); });
const subRich = {b:tok(20,TEAL), a:arrowTok(), r:tok(20,RED)};
factorNames.forEach((n,i)=>{ const ty=1022+61.4*i, cy=ty+8, yr=P(7,[0,i])[1], xc=P(7,[E.fac,i])[0];
  GR.push(txt(342, ty, n, {align:'right', size:20}));
  GR.push(txt(342, ty+24.5, '{b|'+factorLow[i]+'}{a|\u2192}{r|'+factorHigh[i]+'}', {align:'right', size:20, rich:subRich}));
  GR.push(pl([[348,cy],[357,cy],[386,yr],[xc-11,yr]],'#555',1.2)); });

// --- G
const gX = [[406,594,602.5,623],[722,910,920.4,943],[1061,1250,1256,1278]];
gTitles.forEach(([n,r],i)=>{ const cx=[402,720,1058][i]; GR.push({type:'circle', z:40, silent:true, shape:{cx:cx,cy:1523,r:12.5}, style:{fill:'#fff', stroke:'#666', lineWidth:2}});
  GR.push(txt(cx,1524,n,{align:'center',bold:true,size:18,color:'#666'}));
  GR.push(txt(cx+24,1523,'{i|R}{n|'+r+'}',{size:23, rich:{i:tok(23,INK,{fontStyle:'italic', font:'italic 23px '+FS}), n:tok(23,INK)}}));
  const ax=gX[i][2];
  GR.push({type:'rect', z:40, silent:true, shape:{x:ax-1.5,y:1553,width:3,height:172}, style:{fill:new echarts.graphic.LinearGradient(0,0,0,1,[{offset:0,color:'#e8603c'},{offset:0.5,color:'#8c7c78'},{offset:1,color:'#2f88a2'}])}});
  GR.push({type:'polygon', z:40, silent:true, shape:{points:[[ax,1542],[ax-6.5,1556],[ax+6.5,1556]]}, style:{fill:'#e8603c'}});
  GR.push({type:'polygon', z:40, silent:true, shape:{points:[[ax,1735],[ax-6.5,1721],[ax+6.5,1721]]}, style:{fill:'#2f88a2'}});
  GR.push(txt(ax-12,1552,gEnds[i][0],{align:'right',size:21,color:RED}));
  GR.push(txt(ax-12,1727,gEnds[i][1],{align:'right',size:21,color:TEAL}));
});
const it18 = {italic:true, size:19, va:'top', lh:17};
GR.push(pl([[604,1573],[614,1573],[617,1558],[621,1558]],LRED,1.3)); GR.push(txt(623,1551,'great\npyrenees*',Object.assign({color:RED},it18)));
GR.push(pl([[604,1653],[621,1653]],LTEAL,1.3)); GR.push(txt(623,1645,'yorkshire\nterrier',Object.assign({color:TEAL},it18)));
GR.push(pl([[922,1579],[929,1579],[934,1559],[941,1559]],LRED,1.3)); GR.push(pl([[929,1579],[934,1600],[941,1600]],LRED,1.3));
GR.push(txt(943,1551,'great\npyrenees*',Object.assign({color:RED},it18))); GR.push(txt(943,1600,'greyhound*',{italic:true,size:19,color:RED}));
GR.push(pl([[922,1672],[929,1672],[934,1647],[941,1647]],LTEAL,1.3)); GR.push(pl([[929,1672],[934,1693],[941,1693]],LTEAL,1.3));
GR.push(txt(943,1639,'german\nshepherd',Object.assign({color:TEAL},it18))); GR.push(txt(943,1685,'border\ncollie',Object.assign({color:TEAL},it18)));
GR.push(pl([[1258,1580],[1266,1580],[1271,1538],[1276,1538]],LRED,1.3)); GR.push(pl([[1266,1580],[1271,1577],[1276,1577]],LRED,1.3)); GR.push(pl([[1266,1580],[1271,1619],[1276,1619]],LRED,1.3));
GR.push(txt(1278,1530,'great\npyrenees*',Object.assign({color:RED},it18))); GR.push(txt(1278,1569,'siberian\nhusky*',Object.assign({color:RED},it18))); GR.push(txt(1278,1619,'beagle*',{italic:true,size:19,color:RED}));
GR.push(pl([[1258,1689],[1280,1689]],LTEAL,1.3)); GR.push(txt(1282,1681,'border\ncollie*',Object.assign({color:TEAL},it18,{lh:20})));

chart.setOption({graphic:{elements:GR}});
</script></body></html>
